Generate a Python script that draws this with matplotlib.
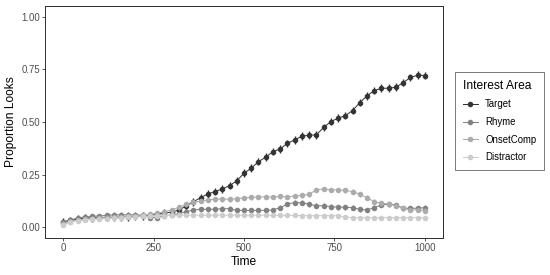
import matplotlib
matplotlib.use("Agg")
import matplotlib.pyplot as plt
from matplotlib.lines import Line2D

plt.rcParams['font.family'] = ['Liberation Sans', 'DejaVu Sans']

# time bins (ms)
time = list(range(0, 1001, 20))

target = [0.027, 0.033, 0.040, 0.044, 0.046, 0.047, 0.048, 0.048, 0.049, 0.050,
          0.052, 0.054, 0.057, 0.062, 0.068, 0.073, 0.082, 0.102, 0.122, 0.141,
          0.159, 0.170, 0.183, 0.198, 0.221, 0.257, 0.281, 0.312, 0.333, 0.360,
          0.372, 0.399, 0.415, 0.433, 0.437, 0.439, 0.474, 0.502, 0.518, 0.530,
          0.554, 0.592, 0.624, 0.649, 0.660, 0.660, 0.665, 0.687, 0.711, 0.722,
          0.720]
rhyme = [0.025, 0.035, 0.045, 0.050, 0.052, 0.055, 0.057, 0.060, 0.060, 0.060,
         0.060, 0.058, 0.047, 0.047, 0.055, 0.060, 0.065, 0.075, 0.083, 0.086,
         0.086, 0.086, 0.089, 0.089, 0.081, 0.081, 0.081, 0.081, 0.081, 0.083,
         0.094, 0.111, 0.118, 0.117, 0.110, 0.103, 0.103, 0.099, 0.096, 0.096,
         0.094, 0.086, 0.083, 0.094, 0.107, 0.110, 0.107, 0.091, 0.091, 0.091,
         0.094]
onset = [0.018, 0.028, 0.035, 0.040, 0.042, 0.045, 0.047, 0.048, 0.050, 0.052,
         0.055, 0.058, 0.062, 0.068, 0.075, 0.083, 0.095, 0.110, 0.120, 0.125,
         0.130, 0.134, 0.134, 0.134, 0.137, 0.140, 0.143, 0.145, 0.145, 0.145,
         0.147, 0.145, 0.149, 0.152, 0.157, 0.178, 0.183, 0.178, 0.178, 0.176,
         0.170, 0.157, 0.141, 0.122, 0.115, 0.111, 0.103, 0.091, 0.083, 0.083,
         0.080]
distractor = [0.012, 0.025, 0.032, 0.036, 0.038, 0.040, 0.042, 0.044, 0.046, 0.048,
              0.050, 0.052, 0.054, 0.055, 0.056, 0.057, 0.058, 0.058, 0.058, 0.058,
              0.058, 0.058, 0.058, 0.058, 0.058, 0.058, 0.058, 0.058, 0.058, 0.057,
              0.057, 0.057, 0.057, 0.056, 0.056, 0.056, 0.056, 0.056, 0.056, 0.050,
              0.047, 0.047, 0.047, 0.047, 0.047, 0.047, 0.047, 0.047, 0.047, 0.047,
              0.047]

labels = ['Target', 'Rhyme', 'OnsetComp', 'Distractor']
series = [target, rhyme, onset, distractor]
se = [0.018, 0.011, 0.011, 0.008]
colors = ['#333333', '#818181', '#ABABAB', '#CCCCCC']

dpi = 72
fig = plt.figure(figsize=(550 / dpi, 275 / dpi), dpi=dpi)
ax = fig.add_axes([45 / 550, 37 / 275, 398 / 550, 232 / 275])

for i, (lab, y, e, c) in enumerate(zip(labels, series, se, colors)):
    ax.errorbar(time, y, yerr=e, color=c, lw=1.0, elinewidth=1.4,
                marker='o', ms=4.5, mec=c, mfc=c, zorder=2 + i)

ax.set_xlim(-50, 1050)
ax.set_ylim(-0.05, 1.05)
ax.set_xticks([0, 250, 500, 750, 1000])
ax.set_yticks([0, 0.25, 0.5, 0.75, 1.0])
ax.set_yticklabels(['0.00', '0.25', '0.50', '0.75', '1.00'])
ax.tick_params(colors='#333333', labelcolor='#4D4D4D', labelsize=9.6,
               length=2.75, width=0.8, pad=2)
for s in ax.spines.values():
    s.set_color('#333333')
    s.set_linewidth(1.0)
ax.set_xlabel('Time', fontsize=12, labelpad=3)
ax.set_ylabel('Proportion Looks', fontsize=12, labelpad=4)

handles = [Line2D([], [], color=c, lw=1.0, marker='o', ms=4.5) for c in colors]
leg = fig.legend(handles, labels, title='Interest Area', loc='upper left',
                 bbox_to_anchor=(455 / 550, 1 - 72 / 275), fontsize=9.6,
                 title_fontsize=12, frameon=True, fancybox=False,
                 handlelength=1.6, handletextpad=0.75, labelspacing=0.8,
                 borderpad=0.8, borderaxespad=0)
leg.get_frame().set_edgecolor('#333333')
leg.get_frame().set_linewidth(0.8)
leg._legend_box.align = 'left'

fig.savefig('out.png', dpi=dpi)
